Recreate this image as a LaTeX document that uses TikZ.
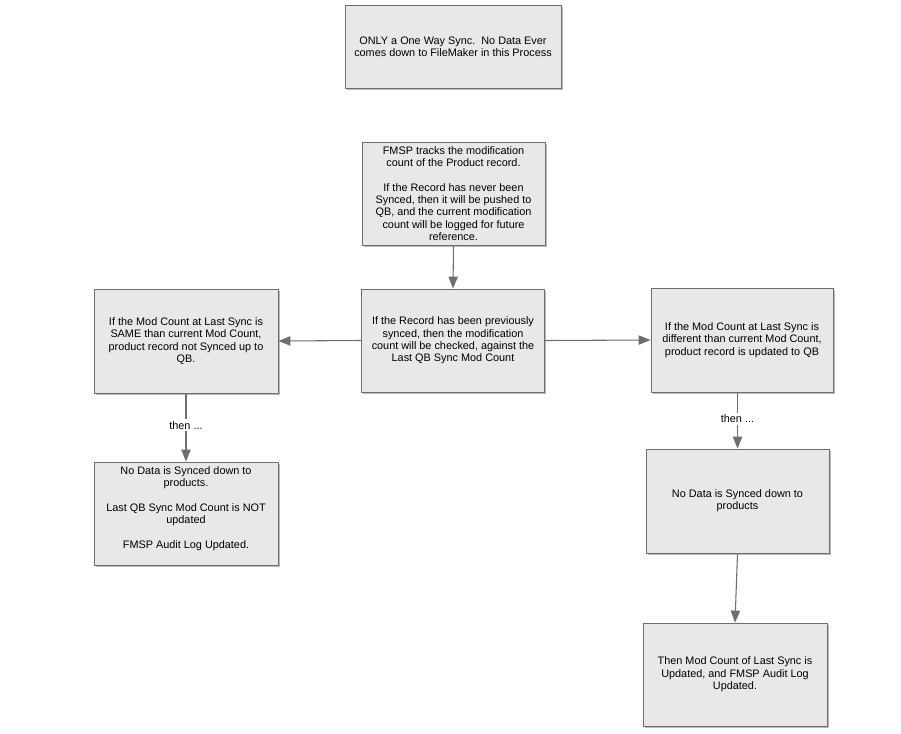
\documentclass[tikz,border=0pt]{standalone}
\usepackage{fontspec}
\setmainfont{Liberation Sans}
\usetikzlibrary{shadows,arrows.meta}
\definecolor{boxfill}{HTML}{E8E8E8}
\definecolor{boxline}{HTML}{6E6E6E}
\definecolor{arr}{HTML}{6E6E6E}
\begin{document}
\begin{tikzpicture}[x=0.75pt,y=-0.75pt,
  box/.style={draw=boxline,fill=boxfill,line width=0.6pt,align=center,
    font=\fontsize{8.15}{9.25}\selectfont,inner sep=0pt,
    drop shadow={shadow xshift=1.2pt,shadow yshift=-1.2pt,fill=black!45,opacity=0.6}},
  conn/.style={draw=arr,line width=0.8pt,-{Triangle[length=9pt,width=7pt]}},
  lbl/.style={fill=white,font=\fontsize{8.15}{9.25}\selectfont,inner sep=1.5pt}]
\useasboundingbox (0,0) rectangle (901,733);
\node[box,minimum width=216*0.75pt,minimum height=83*0.75pt] (top) at (453,46.5)
  {ONLY a One Way Sync.\ \ No Data Ever\\comes down to FileMaker in this Process};
\node[box,minimum width=183*0.75pt,minimum height=103*0.75pt] (fmsp) at (453.5,193.5)
  {FMSP tracks the modification\\count of the Product record.\\[9.25pt]If the Record has never been\\Synced, then it will be pushed to\\QB, and the current modification\\count will be logged for future\\reference.};
\node[box,minimum width=183*0.75pt,minimum height=103*0.75pt] (mid) at (453,340.5)
  {If the Record has been previously\\synced, then the modification\\count will be checked, against the\\Last QB Sync Mod Count};
\node[box,minimum width=184*0.75pt,minimum height=104*0.75pt] (left) at (186,341)
  {If the Mod Count at Last Sync is\\SAME than current Mod Count,\\product record not Synced up to\\QB.};
\node[box,minimum width=182*0.75pt,minimum height=104*0.75pt] (right) at (742,340)
  {If the Mod Count at Last Sync is\\different than current Mod Count,\\product record is updated to QB};
\node[box,minimum width=184*0.75pt,minimum height=103*0.75pt] (lb) at (186,513.5)
  {No Data is Synced down to\\products.\\[9.25pt]Last QB Sync Mod Count is NOT\\updated\\[9.25pt]FMSP Audit Log Updated.\\[0pt]~};
\node[box,minimum width=183*0.75pt,minimum height=104*0.75pt] (rm) at (737.5,501)
  {No Data is Synced down to\\products};
\node[box,minimum width=184*0.75pt,minimum height=103*0.75pt] (rb) at (735,674.5)
  {Then Mod Count of Last Sync is\\Updated, and FMSP Audit Log\\Updated.};
\draw[conn] (fmsp.south) -- (mid.north);
\draw[conn] (mid.west) -- (left.east);
\draw[conn] (mid.east) -- (right.west);
\draw[conn] (left.south) -- node[lbl,pos=0.47]{then ...} (lb.north);
\draw[conn] ([xshift=-4.5*0.75pt]right.south) -- node[lbl,pos=0.47]{then ...} (rm.north);
\draw[conn] (rm.south) -- (rb.north);
\end{tikzpicture}
\end{document}
